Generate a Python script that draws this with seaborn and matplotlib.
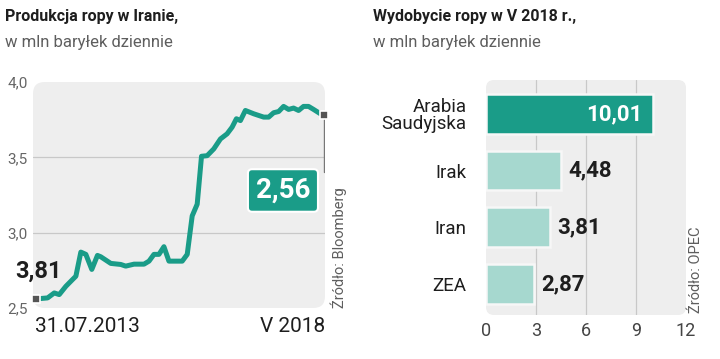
import matplotlib
matplotlib.use("Agg")
import matplotlib.pyplot as plt
from matplotlib.patches import FancyBboxPatch
import seaborn as sns
import pandas as pd

sns.set_theme(style="white")
plt.rcParams['font.family'] = ['Roboto', 'DejaVu Sans']

# ---- data: left chart (Iran oil production) ----
months = [0, 2.35, 3.69, 4.69, 6.03, 7.38, 8.05, 9.05, 10.06, 11.26, 12.40, 13.07,
          15.09, 17.10, 18.10, 19.78, 21.79, 22.80, 23.80, 24.81, 25.81, 26.82,
          29.50, 30.51, 31.51, 32.52, 33.39, 34.53, 35.87, 37.21, 38.55, 39.56,
          40.43, 41.24, 42.24, 43.92, 44.92, 45.93, 46.94, 47.94, 48.95, 49.95,
          50.96, 51.96, 52.97, 53.97, 54.98, 55.99, 57.33, 58.0]
production = [2.56, 2.567, 2.60, 2.589, 2.644, 2.689, 2.711, 2.871, 2.856, 2.756, 2.849, 2.84,
              2.796, 2.789, 2.778, 2.791, 2.791, 2.811, 2.856, 2.856, 2.907, 2.811,
              2.811, 2.856, 3.111, 3.189, 3.507, 3.511, 3.556, 3.622, 3.656, 3.70,
              3.756, 3.744, 3.811, 3.789, 3.778, 3.767, 3.767, 3.796, 3.804, 3.838,
              3.818, 3.827, 3.811, 3.838, 3.838, 3.818, 3.79, 3.782]
y_ticks = [2.5, 3.0, 3.5, 4.0]
y_tick_labels = ["2,5", "3,0", "3,5", "4,0"]
start_label = "3,81"
end_label = "2,56"
date_start = "31.07.2013"
date_end = "V 2018"

# ---- data: right chart (production May 2018) ----
countries = ["Arabia\nSaudyjska", "Irak", "Iran", "ZEA"]
output = [10.01, 4.48, 3.81, 2.87]
value_labels = ["10,01", "4,48", "3,81", "2,87"]
x_ticks = [0, 3, 6, 9, 12]

TEAL = "#1a9c88"
LIGHT = "#a6d8cf"
BG = "#eeeeee"
GRID = "#c8c8c8"
DARK = "#1e1e1e"
GREY = "#5e5e5e"

fig = plt.figure(figsize=(7.2, 3.59), dpi=100)

# titles
fig.text(5/720, 1-16/359, "Produkcja ropy w Iranie,", fontsize=11.5, fontweight='bold', color=DARK, va='center')
fig.text(5/720, 1-42/359, "w mln baryłek dziennie", fontsize=12, color=GREY, va='center')
fig.text(373/720, 1-16/359, "Wydobycie ropy w V 2018 r.,", fontsize=11.5, fontweight='bold', color=DARK, va='center')
fig.text(373/720, 1-42/359, "w mln baryłek dziennie", fontsize=12, color=GREY, va='center')

# ---------- left axes ----------
axL = fig.add_axes([33/720, 1-308/359, 292/720, 226/359])
axL.patch.set_visible(False)
axL.add_patch(FancyBboxPatch((0, 0), 1, 1, boxstyle="round,pad=0,rounding_size=0.04",
                             transform=axL.transAxes, fc=BG, ec='none', zorder=0, clip_on=False,
                             mutation_aspect=292/226))
for yv in [3.0, 3.5]:
    axL.axhline(yv, color=GRID, lw=0.9, zorder=1)
df_line = pd.DataFrame({"month": months, "prod": production})
sns.lineplot(data=df_line, x="month", y="prod", ax=axL, color=TEAL, lw=3.6, zorder=3,
             solid_joinstyle='round', solid_capstyle='round')
axL.set_xlim(-0.6, 58.3)
axL.set_ylim(2.5, 4.0)
axL.set_yticks(y_ticks)
axL.set_yticklabels(y_tick_labels, color="#666666", fontsize=11)
axL.set_xticks([])
axL.set_xlabel("")
axL.set_ylabel("")
axL.tick_params(axis='y', length=0, pad=4)
for s in axL.spines.values():
    s.set_visible(False)
# connector line and end markers
axL.plot([months[-1], months[-1]], [production[-1], 3.40], color="#777777", lw=1, zorder=2)
axL.plot([months[0], months[-1]], [production[0], production[-1]], ls='none', marker='s',
         ms=5.5, mfc="#555555", mec="white", mew=1.2, zorder=5, clip_on=False)
axL.text(0.856, 0.52, end_label, transform=axL.transAxes, ha='center', va='center',
         fontsize=20, fontweight='bold', color='white', zorder=6,
         bbox=dict(boxstyle='round,pad=0.28,rounding_size=0.15', fc=TEAL, ec='white', lw=1.5))
fig.text(15/720, 1-271/359, start_label, fontsize=17, fontweight='bold', color=DARK, va='center', ha='left')
fig.text(35/720, 1-326/359, date_start, fontsize=15, color=DARK, va='center', ha='left')
fig.text(325/720, 1-326/359, date_end, fontsize=15, color=DARK, va='center', ha='right')
fig.text(339/720, 1-308/359, "Źródło: Bloomberg", fontsize=10.5, color=GREY, rotation=90,
         va='bottom', ha='center')

# ---------- right axes ----------
axR = fig.add_axes([486/720, 1-315/359, 200/720, 235/359])
axR.patch.set_visible(False)
axR.add_patch(FancyBboxPatch((0, 0), 1, 1, boxstyle="round,pad=0,rounding_size=0.04",
                             transform=axR.transAxes, fc=BG, ec='none', zorder=0, clip_on=False,
                             mutation_aspect=200/235))
for xv in [3, 6, 9]:
    axR.axvline(xv, color=GRID, lw=0.9, zorder=1)
df_bar = pd.DataFrame({"country": countries, "value": output})
sns.barplot(data=df_bar, y="country", x="value", hue="country", orient='h', ax=axR,
            palette=[TEAL, LIGHT, LIGHT, LIGHT], saturation=1, width=0.7,
            edgecolor="#f7f7f7", linewidth=1.8, legend=False, zorder=2)
axR.set_xlim(0, 12)
axR.set_ylim(3.55, -0.6)
axR.set_xticks(x_ticks)
axR.set_xticklabels([str(t) for t in x_ticks], color="#444444", fontsize=13)
axR.set_yticks(range(len(countries)))
axR.set_yticklabels(countries, color=DARK, fontsize=13.5, linespacing=0.95)
axR.tick_params(axis='both', length=0)
axR.tick_params(axis='y', pad=14)
axR.tick_params(axis='x', pad=5)
axR.set_xlabel("")
axR.set_ylabel("")
for s in axR.spines.values():
    s.set_visible(False)
for i, (v, lab) in enumerate(zip(output, value_labels)):
    if i == 0:
        axR.text(v - 0.65, i, lab, ha='right', va='center', fontsize=16, fontweight='bold', color='white', zorder=4)
    else:
        axR.text(v + 0.45, i, lab, ha='left', va='center', fontsize=16, fontweight='bold', color=DARK, zorder=4)
fig.text(696/720, 1-313/359, "Źródło: OPEC", fontsize=10.5, color=GREY, rotation=90,
         va='bottom', ha='center')

fig.savefig("out.png", dpi=100)
